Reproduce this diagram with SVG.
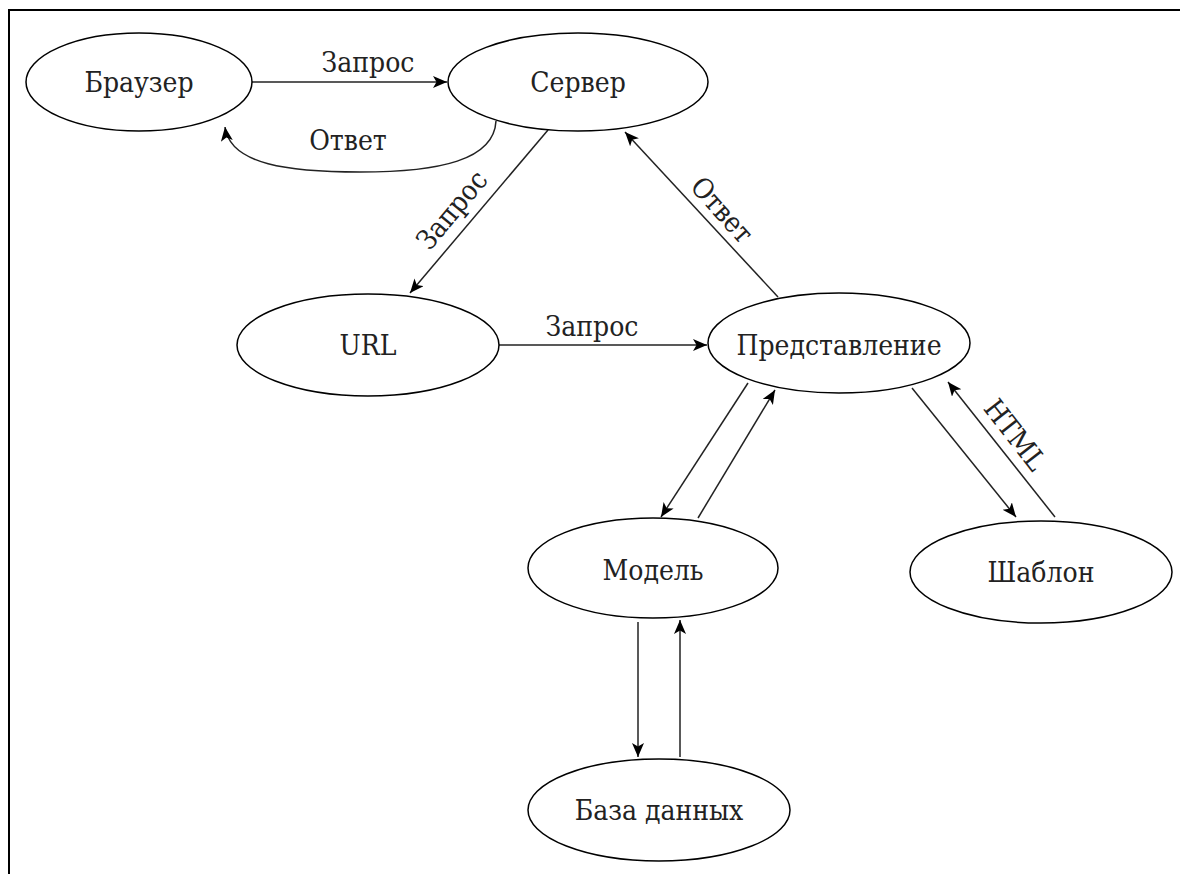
<svg xmlns="http://www.w3.org/2000/svg" width="1180" height="874" viewBox="0 0 1180 874">
<defs>
<marker id="arr" markerUnits="userSpaceOnUse" markerWidth="16" markerHeight="14" refX="14" refY="6" orient="auto">
<path d="M0,0 L14,6 L0,12 L3.5,6 z" fill="#000"/>
</marker>
<style>
.node ellipse{fill:#fff;stroke:#000;stroke-width:1.5}
text{font-family:"DejaVu Serif Condensed","DejaVu Serif","Liberation Serif",serif;font-stretch:condensed;font-size:28px;fill:#222;text-anchor:middle;dominant-baseline:central}
.edge{fill:none;stroke:#222;stroke-width:1.5;marker-end:url(#arr)}
.frame{fill:none;stroke:#000;stroke-width:2}
</style>
</defs>
<rect width="1180" height="874" fill="#fff"/>
<path class="frame" d="M9,874 V10 H1180"/>
<g id="connectors">
<path class="edge" d="M496,121 C494,160 440,172 360,172 C290,172 230,165 225,127"/>
<path class="edge" d="M252,82 H447"/>
<path class="edge" d="M548,130 L410,293"/>
<path class="edge" d="M778,297 L625,132"/>
<path class="edge" d="M499,345 H707"/>
<path class="edge" d="M748,383 L661,517"/>
<path class="edge" d="M698,518 L775,390"/>
<path class="edge" d="M912,388 L1016,517"/>
<path class="edge" d="M1055,517 L948,382"/>
<path class="edge" d="M638,622 V757"/>
<path class="edge" d="M680,757 V620"/>
<text x="368" y="62">Запрос</text>
<text x="348" y="140">Ответ</text>
<text x="452" y="210" transform="rotate(-50 452 210)">Запрос</text>
<text x="722" y="210" transform="rotate(48 722 210)">Ответ</text>
<text x="592" y="326">Запрос</text>
<text x="1015" y="435" transform="rotate(52 1015 435)">HTML</text>
</g>
<g id="browser" class="node"><ellipse cx="139" cy="82" rx="113" ry="49"/><text x="139" y="82">Браузер</text></g>
<g id="server" class="node"><ellipse cx="578" cy="82" rx="130" ry="49"/><text x="578" y="82">Сервер</text></g>
<g id="url" class="node"><ellipse cx="368" cy="345" rx="131" ry="51"/><text x="368" y="345">URL</text></g>
<g id="view" class="node"><ellipse cx="839" cy="343" rx="131" ry="50"/><text x="839" y="345">Представление</text></g>
<g id="model" class="node"><ellipse cx="653" cy="568" rx="125" ry="50"/><text x="653" y="570">Модель</text></g>
<g id="template" class="node"><ellipse cx="1041" cy="572" rx="131" ry="51"/><text x="1041" y="572">Шаблон</text></g>
<g id="db" class="node"><ellipse cx="659" cy="810" rx="131" ry="51"/><text x="659" y="810">База данных</text></g>
</svg>
